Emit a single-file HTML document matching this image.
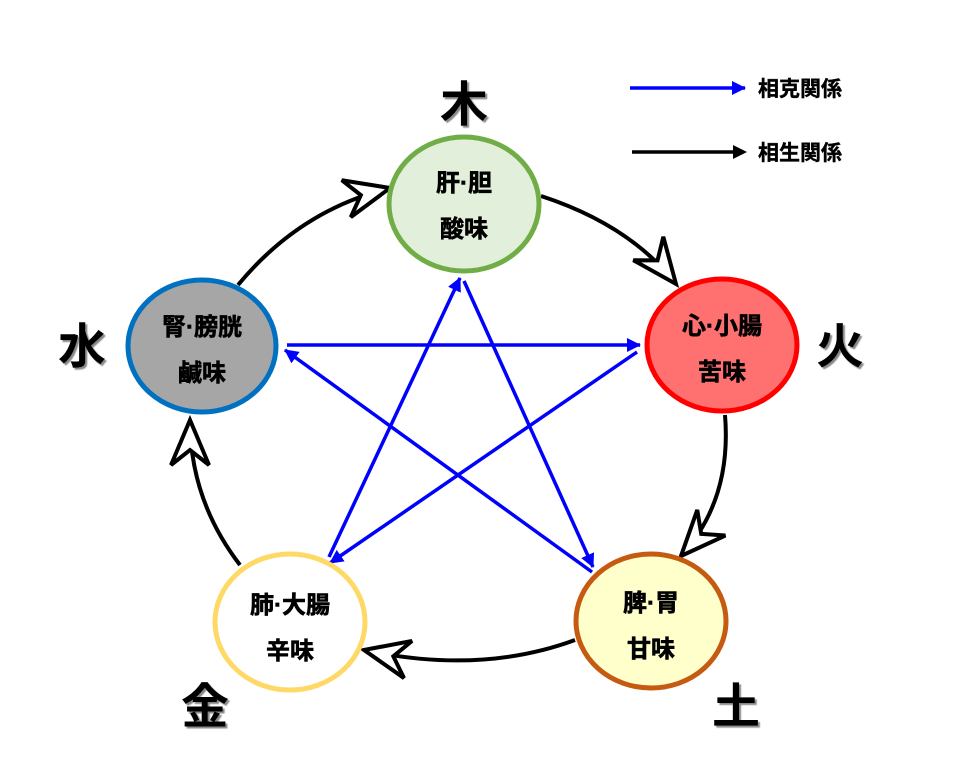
<!DOCTYPE html>
<html><head><meta charset="utf-8"><style>
body{margin:0;background:#fff}
svg text{font-family:"Liberation Sans","Noto Sans CJK JP",sans-serif;font-weight:bold}
</style></head><body>
<svg width="978" height="778" viewBox="0 0 978 778">
<defs>
<marker id="open" markerWidth="60" markerHeight="50" refX="48" refY="22" orient="auto" markerUnits="userSpaceOnUse">
<path d="M48,22 L3,3 L18,22 L3,41 Z" fill="#fff" stroke="#000" stroke-width="4" stroke-linejoin="miter"/>
</marker>
<marker id="blue" markerWidth="16" markerHeight="14" refX="13" refY="7" orient="auto" markerUnits="userSpaceOnUse">
<path d="M14,7 L0,0 L0,14 Z" fill="#0000ff"/>
</marker>
<filter id="sh"><feDropShadow dx="2" dy="2" stdDeviation="0.5" flood-color="#888"/></filter>
</defs>
<g fill="none" stroke="#000" stroke-width="4">
<path d="M541,196 Q630,225 676,284" marker-end="url(#open)"/>
<path d="M725,415 Q732,500 681,556" marker-end="url(#open)"/>
<path d="M575,640 Q480,675 364,650" marker-end="url(#open)"/>
<path d="M240,565 Q190,500 190,420" marker-end="url(#open)"/>
<path d="M238,285 Q300,210 390,188" marker-end="url(#open)"/>
</g>
<g stroke="#0000ff" stroke-width="3.5" fill="none">
<line x1="287" y1="345" x2="640" y2="345" marker-end="url(#blue)"/>
<line x1="637" y1="352" x2="330" y2="563" marker-end="url(#blue)"/>
<line x1="329" y1="557" x2="460" y2="278" marker-end="url(#blue)"/>
<line x1="464" y1="281" x2="593" y2="567" marker-end="url(#blue)"/>
<line x1="592" y1="572" x2="285" y2="350" marker-end="url(#blue)"/>
<line x1="630" y1="88" x2="745" y2="88" marker-end="url(#blue)"/>
</g>
<line x1="632" y1="152" x2="740" y2="152" stroke="#000" stroke-width="3.5"/>
<path d="M747,152 L733,145 L733,159 Z" fill="#000"/>
<ellipse cx="464" cy="204" rx="75" ry="67" fill="#e2efda" stroke="#70ad47" stroke-width="5"/>
<ellipse cx="722" cy="345" rx="75" ry="66" fill="#ff7070" stroke="#ff0000" stroke-width="5"/>
<ellipse cx="651" cy="621" rx="75" ry="67" fill="#ffffcc" stroke="#c55a11" stroke-width="5"/>
<ellipse cx="290" cy="622" rx="75" ry="68" fill="#fff" stroke="#ffd966" stroke-width="5"/>
<ellipse cx="202" cy="346" rx="74" ry="66" fill="#a6a6a6" stroke="#0070c0" stroke-width="5"/>
<g font-size="24" text-anchor="middle" fill="#000" stroke="#000" stroke-width="0.6">
<text x="464" y="191">肝·胆</text><text x="464" y="237">酸味</text>
<text x="722" y="334">心·小腸</text><text x="722" y="380">苦味</text>
<text x="651" y="611">脾·胃</text><text x="651" y="657">甘味</text>
<text x="290" y="613">肺·大腸</text><text x="290" y="659">辛味</text>
<text x="202" y="335">腎·膀胱</text><text x="202" y="381">鹹味</text>
</g>
<g font-size="21" fill="#000" stroke="#000" stroke-width="0.4">
<text x="758" y="96">相克関係</text><text x="758" y="160">相生関係</text>
</g>
<g font-size="48" text-anchor="middle" fill="#000" filter="url(#sh)">
<text x="464" y="121">木</text>
<text x="840" y="363">火</text>
<text x="736" y="723">土</text>
<text x="205" y="723">金</text>
<text x="82" y="363">水</text>
</g>
</svg>
</body></html>
